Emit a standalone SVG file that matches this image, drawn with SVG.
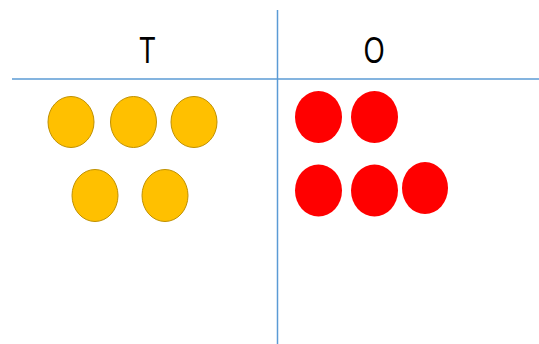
<svg xmlns="http://www.w3.org/2000/svg" width="539" height="344" viewBox="0 0 539 344">
<style>
.lbl{font-family:"Liberation Sans",Arial,sans-serif;font-size:37px;fill:#000;text-anchor:middle}
.y{fill:#FFC000;stroke:#BF9000;stroke-width:1}
.r{fill:#FF0000;stroke:none}
.ln{stroke:#5B9BD5;stroke-width:1.5;fill:none}
</style>
<rect width="539" height="344" fill="#fff"/>
<g id="connectors">
<line class="ln" x1="12" y1="79" x2="539" y2="79"/>
<line class="ln" x1="277.5" y1="10" x2="277.5" y2="344"/>
</g>
<g id="label-T"><text class="lbl" transform="translate(147.5,63) scale(0.72,1)">T</text></g>
<g id="label-O"><text class="lbl" transform="translate(374,63) scale(0.72,1)">O</text></g>
<g id="tens">
<ellipse class="y" cx="71" cy="122" rx="23" ry="25.5" stroke="#7F6000"/>
<ellipse class="y" cx="133.5" cy="122" rx="23" ry="25.5"/>
<ellipse class="y" cx="194" cy="122" rx="23" ry="25.5"/>
<ellipse class="y" cx="95" cy="195.5" rx="23" ry="26"/>
<ellipse class="y" cx="165" cy="195.5" rx="23" ry="26"/>
</g>
<g id="ones">
<ellipse class="r" cx="318.5" cy="117" rx="23.5" ry="26"/>
<ellipse class="r" cx="374.5" cy="117" rx="23.5" ry="26"/>
<ellipse class="r" cx="318.5" cy="190.5" rx="23.5" ry="26"/>
<ellipse class="r" cx="374.5" cy="190.5" rx="23.5" ry="26"/>
<ellipse class="r" cx="425" cy="188" rx="23" ry="26"/>
</g>
</svg>
